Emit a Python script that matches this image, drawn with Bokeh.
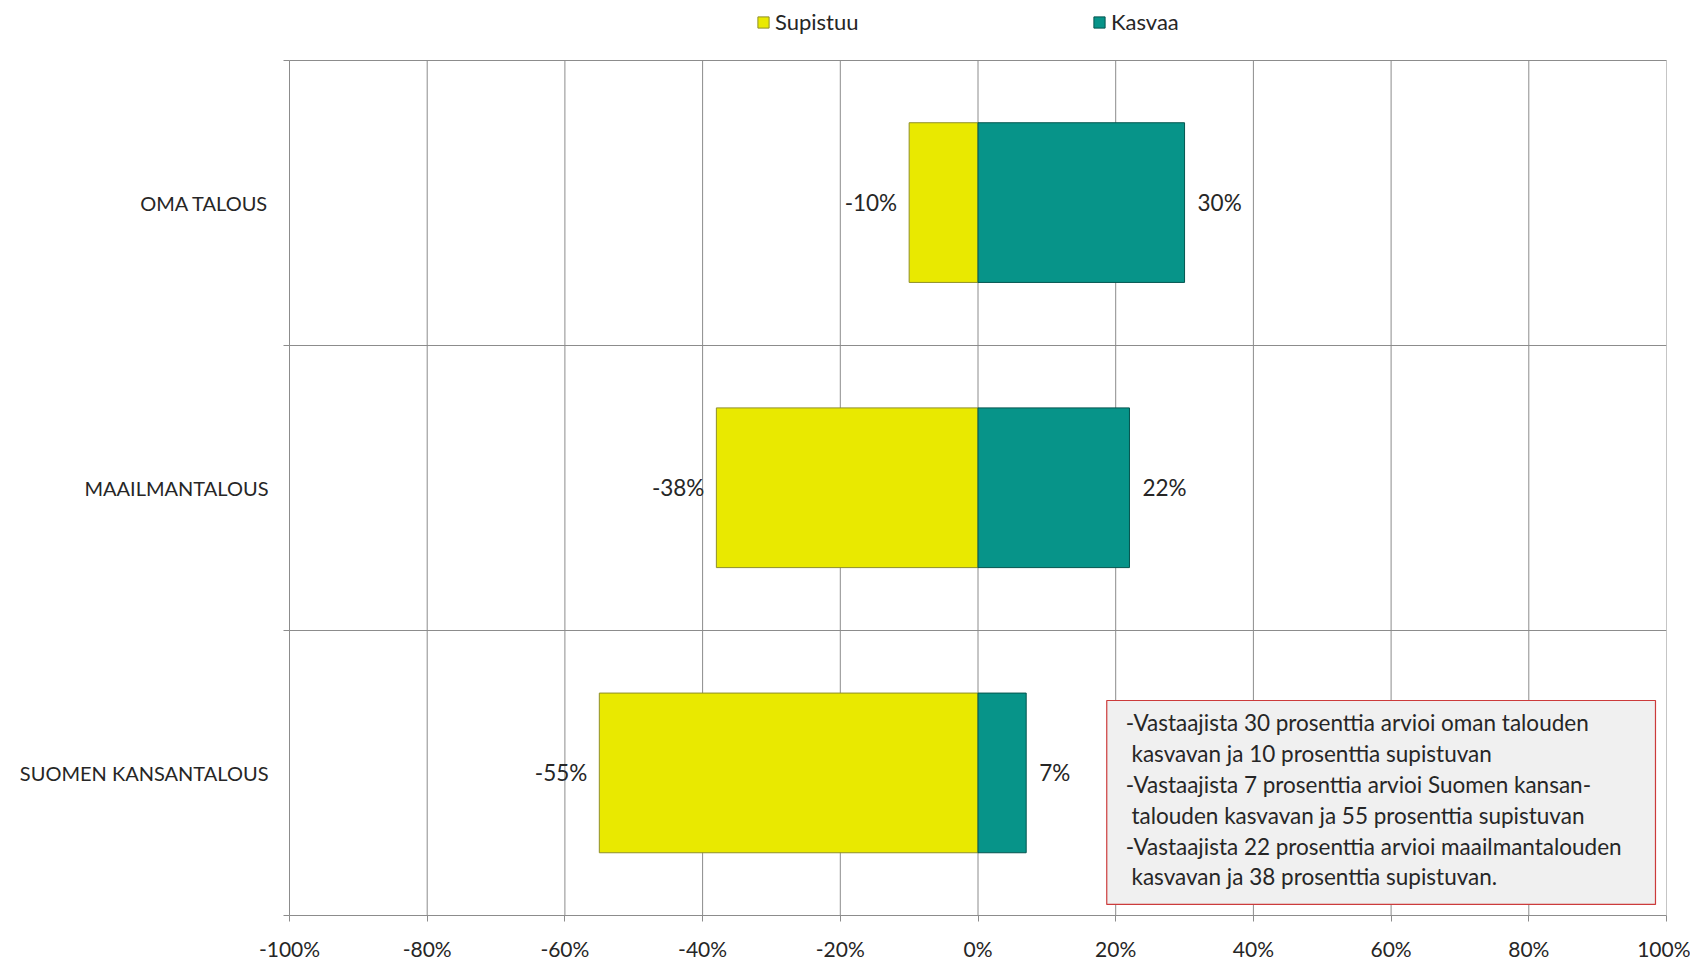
from bokeh.plotting import figure
from bokeh.models import (Range1d, FixedTicker, Legend, LegendItem, ColumnDataSource)
from bokeh.core.properties import value
from bokeh.embed import file_html
from bokeh.resources import INLINE

# ---- data ----
categories = ["OMA TALOUS", "MAAILMANTALOUS", "SUOMEN KANSANTALOUS"]
supistuu = [-10, -38, -55]
kasvaa = [30, 22, 7]
x_ticks = [-100, -80, -60, -40, -20, 0, 20, 40, 60, 80, 100]
x_tick_labels = ["-100%", "-80%", "-60%", "-40%", "-20%", "0%", "20%", "40%", "60%", "80%", "100%"]
note_lines = [
    "-Vastaajista 30 prosenttia arvioi oman talouden",
    "\u00a0kasvavan ja 10 prosenttia supistuvan",
    "-Vastaajista 7 prosenttia arvioi Suomen kansan-",
    "\u00a0talouden kasvavan ja 55 prosenttia supistuvan",
    "-Vastaajista 22 prosenttia arvioi maailmantalouden",
    "\u00a0kasvavan ja 38 prosenttia supistuvan.",
]

FONT = "Lato"
YELLOW = "#e9e900"
TEAL = "#079489"
GRID = "#8c8c8c"
TXT = "#262626"

n = len(categories)
ypos = [n - i - 0.5 for i in range(n)]

src = ColumnDataSource(dict(
    y=ypos, cat=categories, sup=supistuu, kas=kasvaa,
    sup_lbl=[f"{v}%" for v in supistuu], kas_lbl=[f"{v}%" for v in kasvaa],
))

# frame spans the full top of the figure so the legend (inside the frame) is not clipped;
# the plotting area proper ends at y = n (59.5 px below the top)
FRAME_H = 915.0
PLOT_H = 855.5
y_top = n * FRAME_H / PLOT_H

p = figure(width=1690, height=963, x_range=Range1d(x_ticks[0], x_ticks[-1]),
           y_range=Range1d(0, y_top), output_backend="svg", toolbar_location=None,
           min_border_left=289, min_border_right=24, min_border_top=0,
           min_border_bottom=48)
p.outline_line_color = None
p.background_fill_color = "white"

# axes
p.xaxis.ticker = FixedTicker(ticks=x_ticks)
p.xaxis.major_label_overrides = {t: l for t, l in zip(x_ticks, x_tick_labels)}
p.xaxis.major_tick_out = 6
p.xaxis.major_tick_in = 0
p.xaxis.minor_tick_out = 0
p.xaxis.axis_line_color = GRID
p.xaxis.major_tick_line_color = GRID
p.xaxis.major_label_standoff = 14
p.xaxis.major_label_text_font = FONT
p.xaxis.major_label_text_font_size = "21px"
p.xaxis.major_label_text_color = TXT

p.yaxis.ticker = FixedTicker(ticks=ypos, minor_ticks=list(range(n + 1)))
p.yaxis.major_label_overrides = {y: c for y, c in zip(ypos, categories)}
p.yaxis.bounds = (0, n)
p.yaxis.major_tick_out = 0
p.yaxis.major_tick_in = 0
p.yaxis.minor_tick_out = 6
p.yaxis.minor_tick_in = 0
p.yaxis.minor_tick_line_color = GRID
p.yaxis.axis_line_color = GRID
p.yaxis.major_label_standoff = 15
p.yaxis.major_label_text_font = FONT
p.yaxis.major_label_text_font_size = "20px"
p.yaxis.major_label_text_color = TXT

# grid: vertical lines only up to the top of the plotting area
p.xgrid.visible = False
p.segment(x0=x_ticks, y0=[0] * len(x_ticks), x1=x_ticks, y1=[n] * len(x_ticks),
          line_color=GRID, line_width=1)
p.ygrid.ticker = FixedTicker(ticks=list(range(n + 1)))
p.ygrid.grid_line_color = GRID

# bars
r_sup = p.hbar(y="y", left=0, right="sup", height=0.56, source=src,
               fill_color=YELLOW, line_color="#8f8f2a", line_width=1)
r_kas = p.hbar(y="y", left=0, right="kas", height=0.56, source=src,
               fill_color=TEAL, line_color="#04554f", line_width=1)

# data labels
p.text(x="sup", y="y", text="sup_lbl", source=src, x_offset=-12,
       text_align="right", text_baseline="middle", text_font=value(FONT),
       text_font_size="22.5px", text_color=TXT)
p.text(x="kas", y="y", text="kas_lbl", source=src, x_offset=13,
       text_align="left", text_baseline="middle", text_font=value(FONT),
       text_font_size="22.5px", text_color=TXT)

# note box
p.quad(left=[18.7], right=[98.4], top=[0.754], bottom=[0.039],
       fill_color="#f0f0f0", line_color="#cc3b3b", line_width=1.2)
p.text(x=[18.7], y=[0.754], text=["\n".join(note_lines)], x_offset=19, y_offset=9,
       text_align="left", text_baseline="top", text_font=value(FONT),
       text_font_size="22.5px", text_color=TXT, text_line_height=1.14)

# legend
legend = Legend(items=[LegendItem(label="Supistuu", renderers=[r_sup]),
                       LegendItem(label="Kasvaa", renderers=[r_kas])],
                orientation="horizontal", location=(467, 880),
                glyph_width=14, glyph_height=14, label_standoff=5,
                label_width=317, spacing=0, padding=0, margin=0,
                label_text_font=FONT, label_text_font_size="22px",
                label_text_color=TXT, background_fill_alpha=0,
                border_line_color=None)
p.add_layout(legend, "center")

open("out.html", "w").write(file_html(p, INLINE))
